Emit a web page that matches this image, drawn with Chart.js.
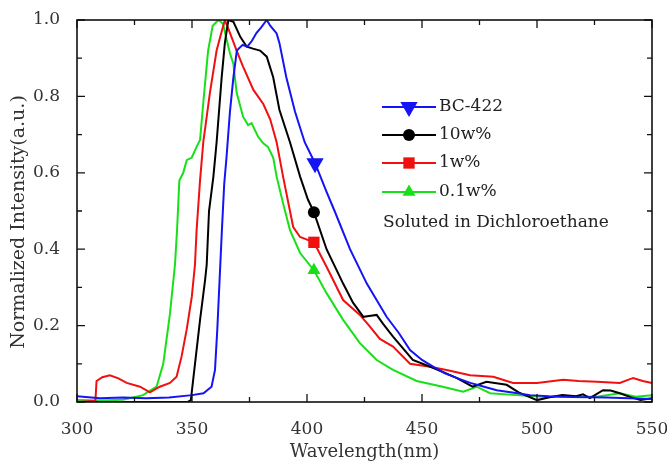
<!DOCTYPE html>
<html>
<head>
<meta charset="utf-8">
<script src="https://cdn.jsdelivr.net/npm/chart.js@4/dist/chart.umd.min.js"></script>
<style>
  html, body { margin: 0; padding: 0; background: #fff; overflow: hidden; }
  #wrap { position: relative; width: 667px; height: 465px; }
  #chart { display: block; }
</style>
</head>
<body>
<div id="wrap"><canvas id="chart"></canvas></div>
<script>
// BC-422 (blue)
const bcX = [300, 310, 320, 330, 340, 350, 355, 358.5, 360, 361, 362, 363, 364, 365, 366.5, 368, 369.5, 372, 374, 376, 378, 380, 382.5, 384, 386.8, 388, 391, 394.8, 399, 403.5, 408.5, 412, 418.7, 426, 434.6, 440, 444.8, 450, 455, 460, 465, 471, 477, 482.5, 490, 497, 505, 515, 530, 540, 550];
const bcY = [0.015, 0.01, 0.012, 0.01, 0.012, 0.018, 0.023, 0.04, 0.084, 0.19, 0.32, 0.45, 0.57, 0.64, 0.76, 0.85, 0.92, 0.935, 0.93, 0.945, 0.966, 0.98, 1.0, 0.985, 0.965, 0.94, 0.85, 0.76, 0.68, 0.625, 0.55, 0.50, 0.40, 0.31, 0.223, 0.18, 0.136, 0.11, 0.092, 0.075, 0.063, 0.05, 0.04, 0.031, 0.024, 0.018, 0.015, 0.013, 0.012, 0.01, 0.008];

// 10w% (black)
const w10X = [300, 320, 340, 348, 349.5, 351.3, 353.5, 355.7, 356.4, 357.4, 359.3, 360.7, 362.9, 364.3, 365.8, 368, 371, 373.8, 376.5, 379.6, 382.5, 385.3, 388, 392.6, 397, 400.4, 403, 408.5, 415.7, 420, 424.5, 427, 430.3, 433, 437.4, 446, 455, 465, 472, 478, 486.8, 492, 500, 505, 511, 517, 520, 523, 528.7, 532, 536, 541, 545, 550];
const w10Y = [0, 0, 0, 0, 0.005, 0.10, 0.215, 0.32, 0.36, 0.50, 0.59, 0.68, 0.85, 0.94, 1.0, 0.995, 0.956, 0.93, 0.925, 0.92, 0.904, 0.85, 0.765, 0.68, 0.59, 0.53, 0.497, 0.40, 0.31, 0.26, 0.223, 0.225, 0.228, 0.205, 0.171, 0.11, 0.089, 0.063, 0.04, 0.053, 0.045, 0.025, 0.005, 0.012, 0.018, 0.015, 0.02, 0.01, 0.031, 0.03, 0.023, 0.012, 0.005, 0.01];

// 1w% (red)
const w1X = [300, 305, 308, 308.5, 311, 314.3, 318, 321.6, 327.4, 331.7, 336, 340.4, 343.3, 345.5, 347.7, 349.9, 351.3, 352, 353.5, 354.9, 357.8, 360.7, 362.9, 364.3, 366.5, 369.4, 372.2, 376.7, 381, 384, 386.8, 389.6, 392.6, 394, 397, 400, 403, 408.5, 415.7, 423, 427, 431.7, 437.4, 444.8, 453.5, 460.7, 470.9, 481, 489.6, 500, 511.4, 518, 526, 536, 541.8, 546, 550];
const w1Y = [0, 0.002, 0.003, 0.055, 0.065, 0.07, 0.062, 0.05, 0.04, 0.025, 0.04, 0.05, 0.066, 0.12, 0.19, 0.275, 0.36, 0.45, 0.58, 0.68, 0.81, 0.92, 0.97, 1.0, 0.966, 0.92, 0.878, 0.817, 0.78, 0.74, 0.68, 0.59, 0.50, 0.458, 0.432, 0.425, 0.418, 0.354, 0.267, 0.228, 0.2, 0.165, 0.145, 0.10, 0.092, 0.084, 0.07, 0.066, 0.05, 0.05, 0.058, 0.055, 0.053, 0.05, 0.063, 0.055, 0.05];

// 0.1w% (green)
const w01X = [300, 310, 320, 328.7, 334.6, 337.5, 340.4, 342.6, 343.5, 344.5, 346.2, 347.7, 349.9, 352, 353.5, 355, 357, 359, 361.5, 363.5, 365, 366.5, 368, 369.4, 372.2, 374.4, 375.9, 378.7, 381, 383, 385.3, 386.8, 389.6, 392.6, 397, 403, 408.5, 415.7, 423, 430.3, 437.4, 447.7, 459, 467.9, 473.8, 479.6, 491, 502.6, 514, 526, 536, 543, 550];
const w01Y = [0.005, 0.004, 0.006, 0.018, 0.04, 0.10, 0.23, 0.36, 0.45, 0.58, 0.60, 0.633, 0.64, 0.668, 0.686, 0.79, 0.92, 0.985, 1.0, 0.99, 0.95, 0.913, 0.885, 0.81, 0.747, 0.725, 0.73, 0.695, 0.677, 0.668, 0.64, 0.59, 0.52, 0.45, 0.39, 0.345, 0.285, 0.215, 0.154, 0.11, 0.084, 0.055, 0.04, 0.027, 0.04, 0.023, 0.018, 0.014, 0.014, 0.014, 0.023, 0.014, 0.018];

const seriesNames = ['BC-422', '10w%', '1w%', '0.1w%'];
const markerAt = [403.5, 403, 403, 403];
const xTicks = [300, 350, 400, 450, 500, 550];
const yTicks = [0.0, 0.2, 0.4, 0.6, 0.8, 1.0];
const note = 'Soluted in Dichloroethane';
const yTitle = 'Normalized Intensity(a.u.)';

const serif = '"DejaVu Serif", "Liberation Serif", serif';
const looks = [
  { color: '#1414f5', style: 'triangle', rot: 180, r: 10 },
  { color: '#000000', style: 'circle', rot: 0, r: 6 },
  { color: '#f01010', style: 'rect', rot: 0, r: 8 },
  { color: '#18e018', style: 'triangle', rot: 0, r: 7.5 },
];

const pts = (xs, ys) => xs.map((x, i) => ({ x, y: ys[i] }));
const allX = [bcX, w10X, w1X, w01X];
const allY = [bcY, w10Y, w1Y, w01Y];

const datasets = seriesNames.map((name, i) => ({
  label: name,
  data: pts(allX[i], allY[i]),
  borderColor: looks[i].color,
  backgroundColor: looks[i].color,
  borderWidth: 2,
  tension: 0,
  pointStyle: looks[i].style,
  rotation: looks[i].rot,
  pointBorderWidth: 0,
  pointRadius: ctx => (ctx.raw && ctx.raw.x === markerAt[i] ? looks[i].r : 0),
  pointHoverRadius: 0,
}));

function marker(ctx, style, x, y, r, rot) {
  ctx.beginPath();
  if (style === 'circle') {
    ctx.arc(x, y, r, 0, Math.PI * 2);
  } else if (style === 'rect') {
    const s = Math.SQRT1_2 * r;
    ctx.rect(x - s, y - s, 2 * s, 2 * s);
  } else {
    const dir = rot === 180 ? -1 : 1;
    ctx.moveTo(x, y - dir * r);
    ctx.lineTo(x - r * 0.866, y + dir * r * 0.5);
    ctx.lineTo(x + r * 0.866, y + dir * r * 0.5);
    ctx.closePath();
  }
  ctx.fill();
}

// box frame with inward ticks on all four sides
const frame = {
  id: 'frame',
  afterDraw(chart) {
    const { ctx, chartArea: a, scales } = chart;
    ctx.save();
    ctx.strokeStyle = '#111';
    ctx.lineWidth = 1.6;
    ctx.strokeRect(a.left, a.top, a.right - a.left, a.bottom - a.top);
    ctx.lineWidth = 1.3;
    scales.x.ticks.forEach(t => {
      const px = scales.x.getPixelForValue(t.value);
      const len = t.value % 50 === 0 ? 8 : 5;
      ctx.beginPath();
      ctx.moveTo(px, a.bottom); ctx.lineTo(px, a.bottom - len);
      ctx.moveTo(px, a.top); ctx.lineTo(px, a.top + len);
      ctx.stroke();
    });
    scales.y.ticks.forEach(t => {
      const py = scales.y.getPixelForValue(t.value);
      const len = Math.round(t.value * 10) % 2 === 0 ? 8 : 5;
      ctx.beginPath();
      ctx.moveTo(a.left, py); ctx.lineTo(a.left + len, py);
      ctx.moveTo(a.right, py); ctx.lineTo(a.right - len, py);
      ctx.stroke();
    });
    // y title sits a bit below the axis middle in the original
    ctx.translate(19, 222);
    ctx.rotate(-Math.PI / 2);
    ctx.font = '19px ' + serif;
    ctx.fillStyle = '#333';
    ctx.textAlign = 'center';
    ctx.textBaseline = 'middle';
    ctx.fillText(yTitle, 0, 0);
    ctx.restore();
  },
};

const legendBox = {
  id: 'legendBox',
  afterDraw(chart) {
    const ctx = chart.ctx;
    const rows = [107, 135, 163, 192];
    ctx.save();
    ctx.font = '17px ' + serif;
    ctx.textBaseline = 'middle';
    seriesNames.forEach((name, i) => {
      const y = rows[i];
      ctx.strokeStyle = looks[i].color;
      ctx.fillStyle = looks[i].color;
      ctx.lineWidth = 2;
      ctx.beginPath();
      ctx.moveTo(382, y); ctx.lineTo(436, y);
      ctx.stroke();
      marker(ctx, looks[i].style, 409, y, looks[i].r, looks[i].rot);
      ctx.fillStyle = '#222';
      ctx.fillText(name, 439, y);
    });
    ctx.fillText(note, 383, 223);
    ctx.restore();
  },
};

new Chart(document.getElementById('chart'), {
  type: 'line',
  data: { datasets },
  plugins: [frame, legendBox],
  options: {
    responsive: true,
    maintainAspectRatio: false,
    animation: false,
    layout: { padding: { top: 20, right: 15, left: 0, bottom: 0 } },
    plugins: { legend: { display: false }, tooltip: { enabled: false } },
    scales: {
      x: {
        type: 'linear',
        min: 300,
        max: 550,
        afterFit: s => { s.height = 63; s.paddingLeft = 0; s.paddingRight = 0; },
        grid: { display: false },
        border: { display: false },
        ticks: {
          stepSize: 25,
          autoSkip: false,
          maxRotation: 0,
          padding: 9,
          color: '#333',
          font: { family: serif, size: 17 },
          callback: v => (xTicks.includes(v) ? String(v) : ''),
        },
        title: {
          display: true,
          text: 'Wavelength(nm)',
          color: '#333',
          font: { family: serif, size: 18 },
          padding: { top: 2, bottom: 2 },
        },
      },
      y: {
        min: 0,
        max: 1,
        afterFit: s => { s.width = 77; s.paddingTop = 0; s.paddingBottom = 0; },
        grid: { display: false },
        border: { display: false },
        ticks: {
          stepSize: 0.1,
          autoSkip: false,
          padding: 9,
          color: '#333',
          font: { family: serif, size: 17 },
          callback: v => {
            const r = Math.round(v * 10) / 10;
            return yTicks.some(t => Math.abs(t - r) < 1e-9) ? r.toFixed(1) : '';
          },
        },
      },
    },
  },
});
</script>
</body>
</html>
